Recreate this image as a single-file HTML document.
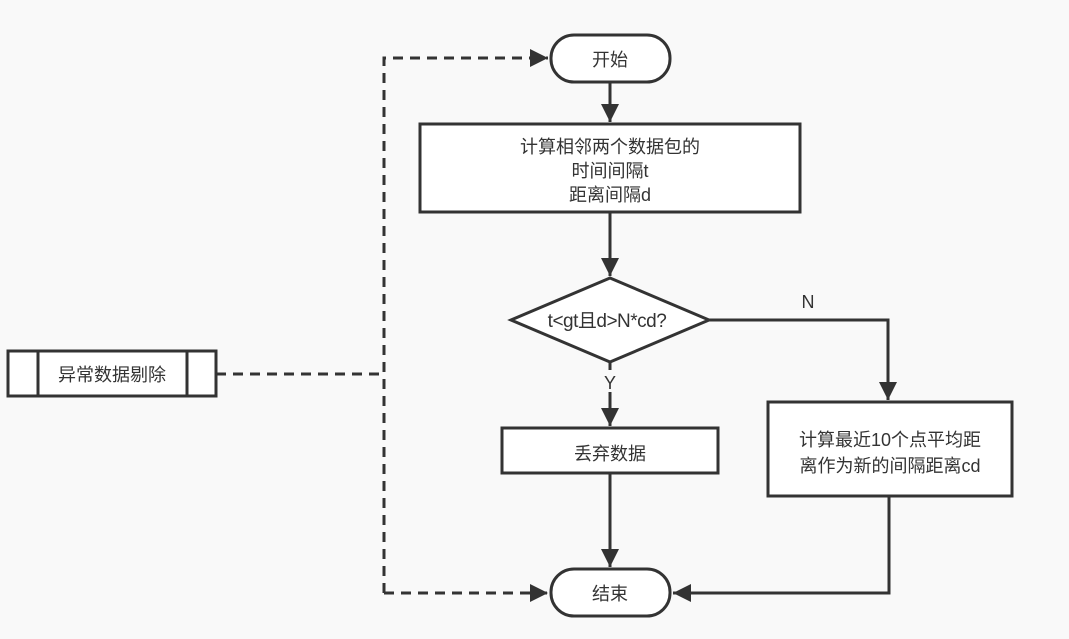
<!DOCTYPE html>
<html><head><meta charset="utf-8"><style>
html,body{margin:0;padding:0;background:#f9f9f9;}
svg{display:block;}
text{font-family:"Liberation Sans","Noto Sans CJK SC",sans-serif;font-size:18px;fill:#333;}
</style></head><body>
<svg width="1069" height="639" viewBox="0 0 1069 639" xmlns="http://www.w3.org/2000/svg">
<defs>
<marker id="a" viewBox="0 0 10 10" refX="10" refY="5" markerWidth="6" markerHeight="6" markerUnits="strokeWidth" orient="auto"><path d="M0,0 L10,5 L0,10 z" fill="#333"/></marker>
</defs>
<g stroke="#333" stroke-width="3" fill="none">
<path d="M216,374 H384 M384,593 V58 H548" stroke-dasharray="10,7" marker-end="url(#a)"/>
<path d="M384,593 H548" stroke-dasharray="10,7" marker-end="url(#a)"/>
<path d="M610,82 V122" marker-end="url(#a)"/>
<path d="M610,212 V276" marker-end="url(#a)"/>
<path d="M610,362 V426" marker-end="url(#a)"/>
<path d="M610,473 V567" marker-end="url(#a)"/>
<path d="M709,320 H888 V400" marker-end="url(#a)"/>
<path d="M889,496 V593 H673" marker-end="url(#a)"/>
</g>
<g stroke="#333" stroke-width="3" fill="#fff">
<rect x="551" y="35" width="119" height="47" rx="23"/>
<rect x="420" y="124" width="380" height="88"/>
<polygon points="610,278 709,320 610,362 511,320"/>
<rect x="502" y="428" width="216" height="45"/>
<rect x="768" y="402" width="244" height="94"/>
<rect x="551" y="569" width="119" height="47" rx="23"/>
<rect x="8" y="351" width="208" height="45"/>
<line x1="38" y1="351" x2="38" y2="396"/>
<line x1="187" y1="351" x2="187" y2="396"/>
</g>
<rect x="602" y="370" width="16" height="22" fill="#f9f9f9"/>
<g text-anchor="middle">
<text x="610" y="66">开始</text>
<text x="610" y="153">计算相邻两个数据包的</text>
<text x="610" y="177">时间间隔t</text>
<text x="610" y="201">距离间隔d</text>
<text x="607" y="327" style="font-size:19px;letter-spacing:-0.5px">t&lt;gt且d&gt;N*cd?</text>
<text x="808" y="308">N</text>
<text x="610" y="389">Y</text>
<text x="610" y="460">丢弃数据</text>
<text x="890" y="446">计算最近10个点平均距</text>
<text x="890" y="472">离作为新的间隔距离cd</text>
<text x="610" y="600">结束</text>
<text x="112" y="381">异常数据剔除</text>
</g>
</svg>
</body></html>
